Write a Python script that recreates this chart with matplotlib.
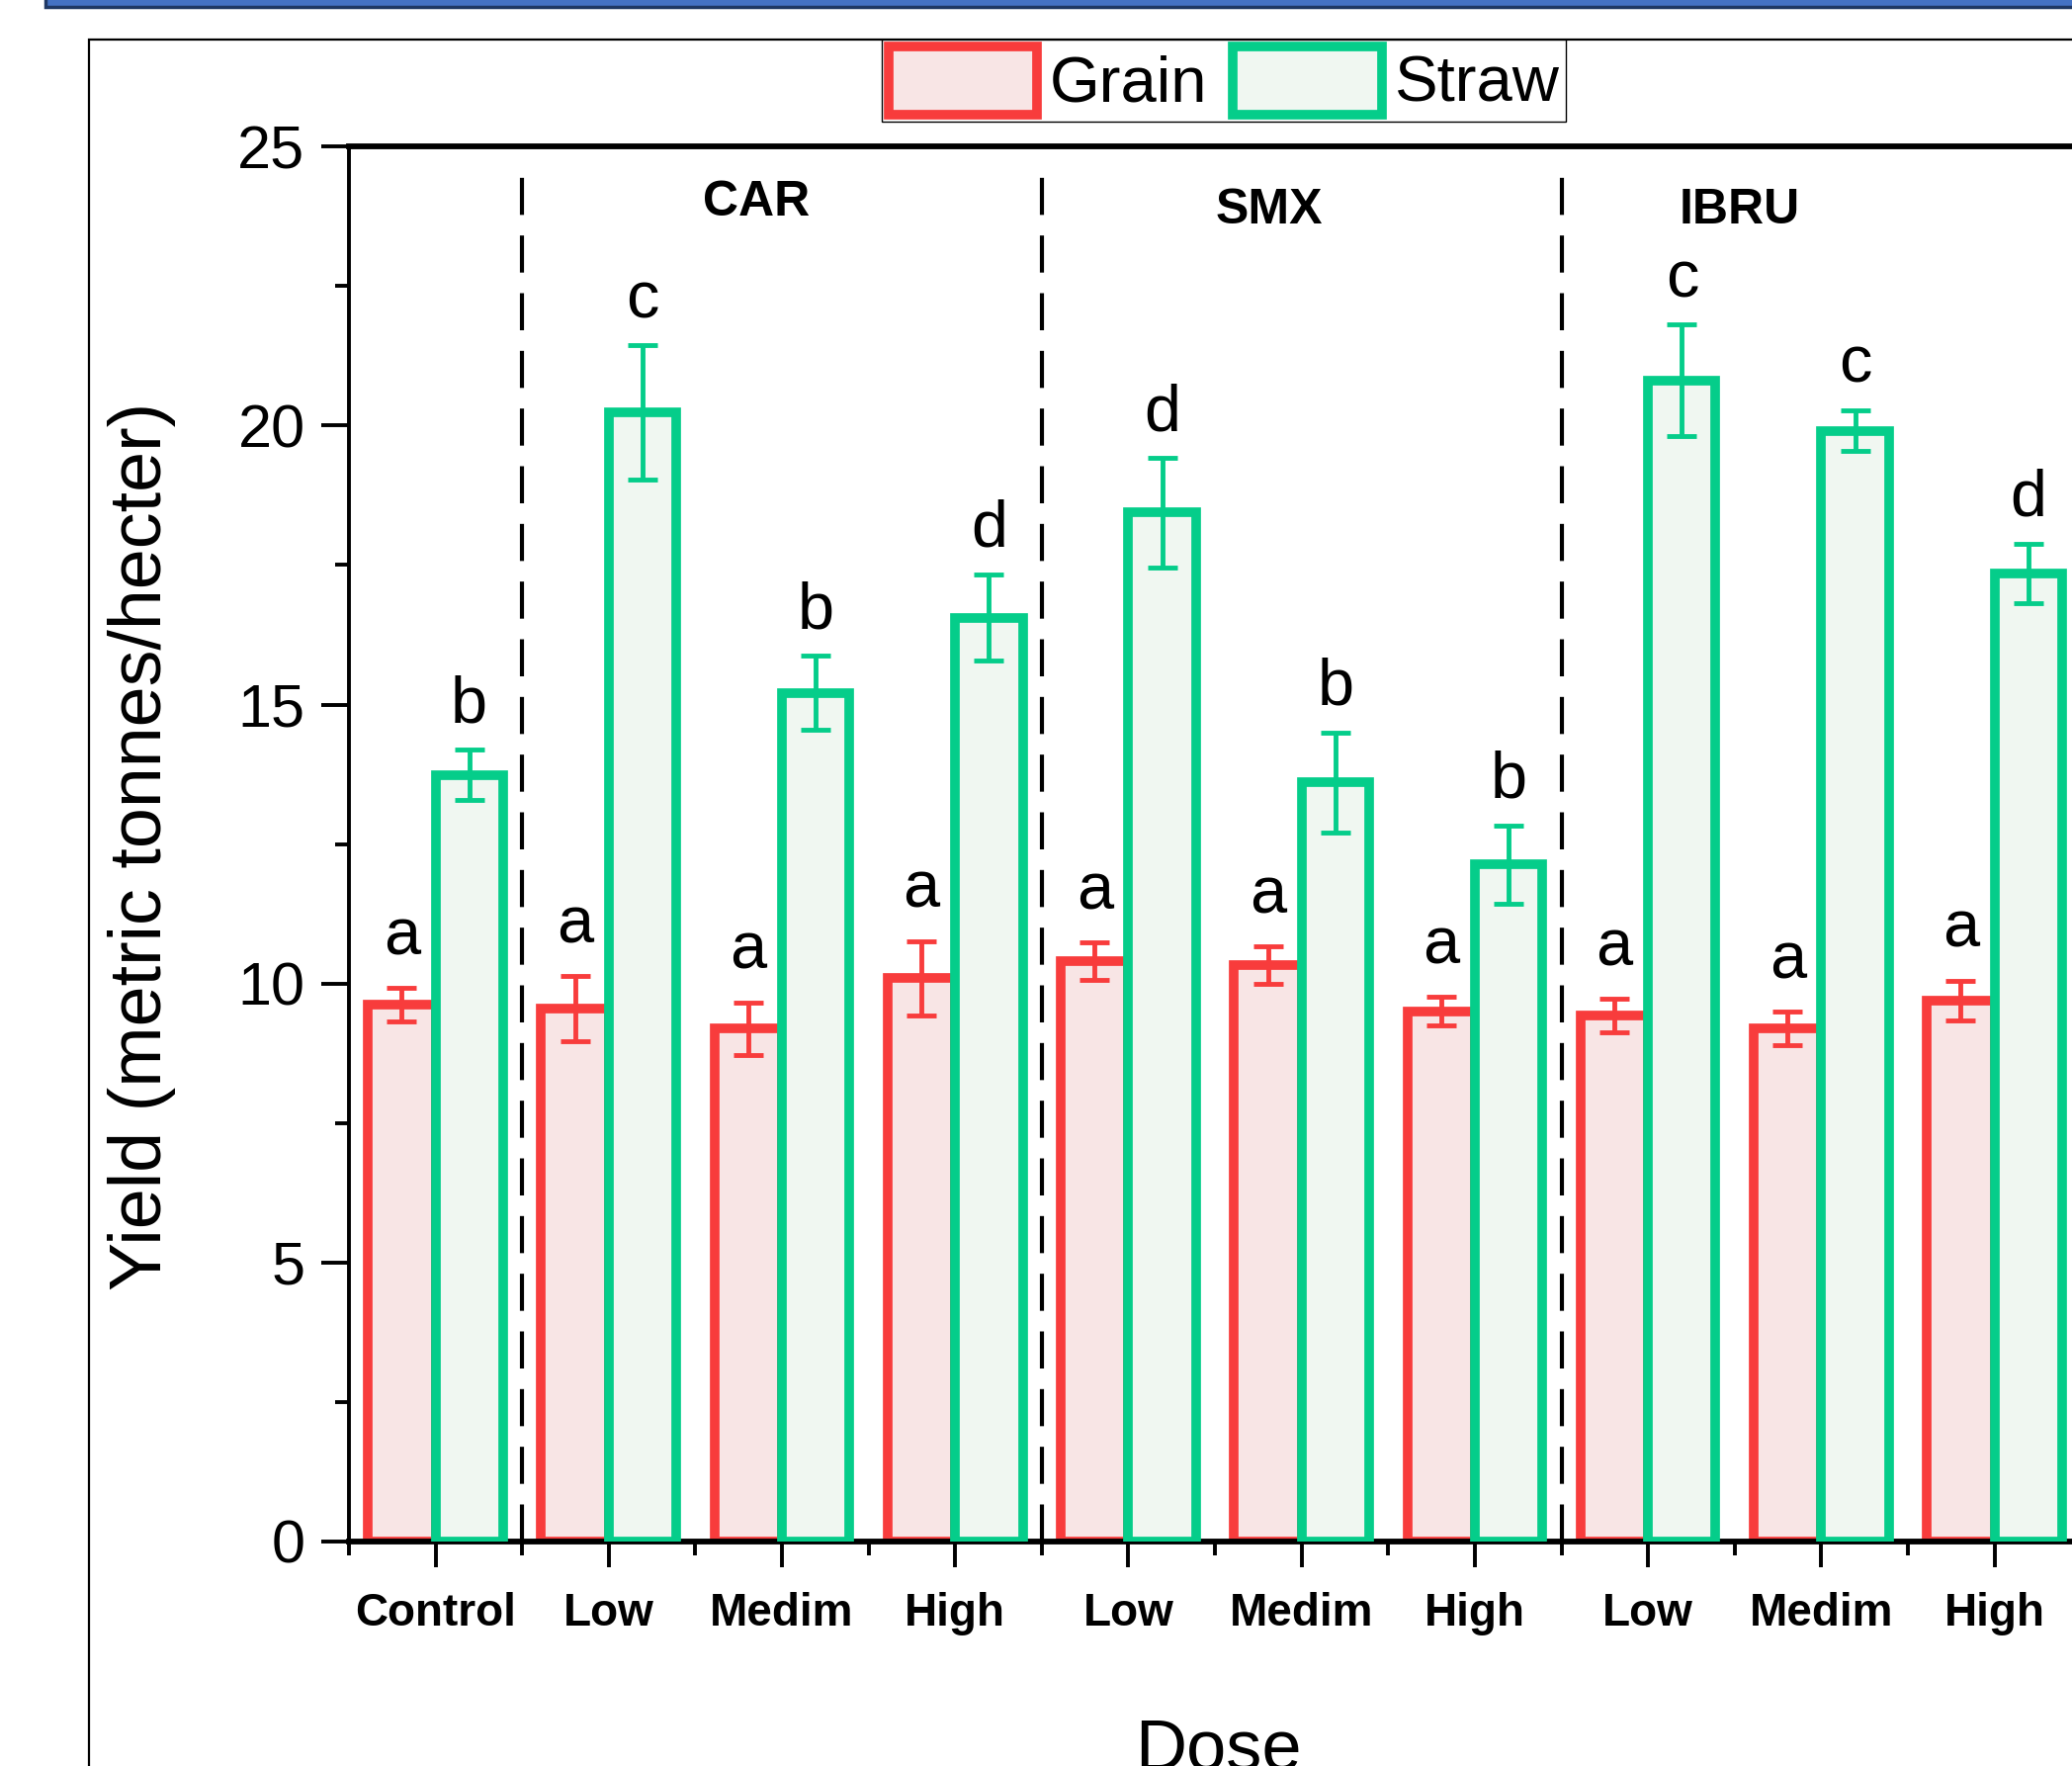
import numpy as np
import matplotlib
matplotlib.use("Agg")
import matplotlib.pyplot as plt
from matplotlib.patches import Rectangle

# -----------------------------
# Data
# -----------------------------
doses = ["Control", "Low", "Medim", "High", "Low", "Medim", "High", "Low", "Medim", "High"]
groups = ["CAR", "SMX", "IBRU"]

grain_mean = [9.62, 9.55, 9.19, 10.09, 10.40, 10.33, 9.50, 9.43, 9.19, 9.69]
grain_err = [0.30, 0.58, 0.47, 0.67, 0.34, 0.33, 0.26, 0.30, 0.30, 0.36]
grain_letters = ["a", "a", "a", "a", "a", "a", "a", "a", "a", "a"]

straw_mean = [13.74, 20.24, 15.21, 16.56, 18.44, 13.60, 12.13, 20.81, 19.91, 17.35]
straw_err = [0.45, 1.20, 0.66, 0.77, 0.98, 0.90, 0.70, 1.00, 0.37, 0.53]
straw_letters = ["b", "c", "b", "d", "d", "b", "b", "c", "c", "d"]

RED = "#F83C3C"
RED_FILL = "#F8E5E5"
GREEN = "#05CD8A"
GREEN_FILL = "#F0F7F1"

plt.rcParams["font.family"] = ["Liberation Sans", "DejaVu Sans"]


# -----------------------------
# Plot function
# -----------------------------
def plot():
    fig = plt.figure(figsize=(20.96, 17.86), dpi=100)

    # blue strip at the very top and the outer frame (picture is cropped)
    fig.patches.append(Rectangle((0.022, 0.9962), 1.2, 0.05, transform=fig.transFigure,
                                 facecolor="#4472C4", edgecolor="#1F3864", lw=2.5))
    fig.patches.append(Rectangle((0.043, -0.2), 1.2, 1.1776, transform=fig.transFigure,
                                 facecolor="none", edgecolor="black", lw=1.6))

    ax = fig.add_axes([0.1684, 0.1273, 0.836, 0.7896])
    x = np.arange(len(doses))
    w = 0.39

    g = ax.bar(x - w / 2, grain_mean, w, color=RED_FILL, edgecolor=RED, lw=7, label="Grain", zorder=2)
    s = ax.bar(x + w / 2, straw_mean, w, color=GREEN_FILL, edgecolor=GREEN, lw=7, label="Straw", zorder=3)
    ax.errorbar(x - w / 2, grain_mean, yerr=grain_err, fmt="none", ecolor=RED,
                elinewidth=3.5, capsize=11, capthick=3.5, zorder=4)
    ax.errorbar(x + w / 2, straw_mean, yerr=straw_err, fmt="none", ecolor=GREEN,
                elinewidth=3.5, capsize=11, capthick=3.5, zorder=4)

    # significance letters
    for i in range(len(doses)):
        ax.text(x[i] - w / 2, grain_mean[i] + grain_err[i] + 0.35, grain_letters[i],
                ha="center", va="bottom", fontsize=48)
        ax.text(x[i] + w / 2, straw_mean[i] + straw_err[i] + 0.25, straw_letters[i],
                ha="center", va="bottom", fontsize=48)

    # group separators and names
    for xs in [0.5, 3.5, 6.5]:
        ax.axvline(xs, ymin=0, ymax=0.985, color="black", lw=3, linestyle=(0, (9, 5)), zorder=1)
    ax.text(1.85, 24.0, groups[0], ha="center", va="center", fontsize=36, fontweight="bold")
    ax.text(4.81, 23.85, groups[1], ha="center", va="center", fontsize=36, fontweight="bold")
    ax.text(7.53, 23.85, groups[2], ha="center", va="center", fontsize=36, fontweight="bold")

    ax.set_xlim(-0.5, 9.5)
    ax.set_ylim(0, 25)
    ax.set_xticks(x)
    ax.set_xticklabels(doses, fontweight="bold")
    ax.set_xticks(np.arange(-0.5, 10, 1), minor=True)
    ax.set_yticks(np.arange(0, 26, 5))
    ax.set_yticks(np.arange(2.5, 25, 5), minor=True)

    ax.tick_params(axis="y", which="major", length=20, width=2.8, labelsize=44, pad=12)
    ax.tick_params(axis="y", which="minor", length=10, width=2.8)
    ax.tick_params(axis="x", which="major", length=19, width=2.8, labelsize=33, pad=18)
    ax.tick_params(axis="x", which="minor", length=10, width=2.8)

    ax.spines["left"].set_linewidth(2.8)
    ax.spines["top"].set_linewidth(4.2)
    ax.spines["bottom"].set_linewidth(4.2)
    ax.spines["right"].set_linewidth(4.2)

    fig.text(0.0687, 0.521, "Yield (metric tonnes/hecter)", rotation=90,
             ha="center", va="center", fontsize=53)
    fig.text(0.588, 0.027, "Dose", ha="center", va="top", fontsize=52)

    leg = fig.legend(handles=[g, s], loc="upper center", bbox_to_anchor=(0.5907, 0.9776),
                     ncol=2, fontsize=47, handlelength=2.3, handleheight=1.25,
                     handletextpad=0.2, columnspacing=0.4, borderpad=0.1,
                     borderaxespad=0, fancybox=False, framealpha=1, edgecolor="black")
    leg.get_frame().set_linewidth(1.0)

    fig.savefig("out.png", dpi=100)


# -----------------------------
# Execute
# -----------------------------
plot()
